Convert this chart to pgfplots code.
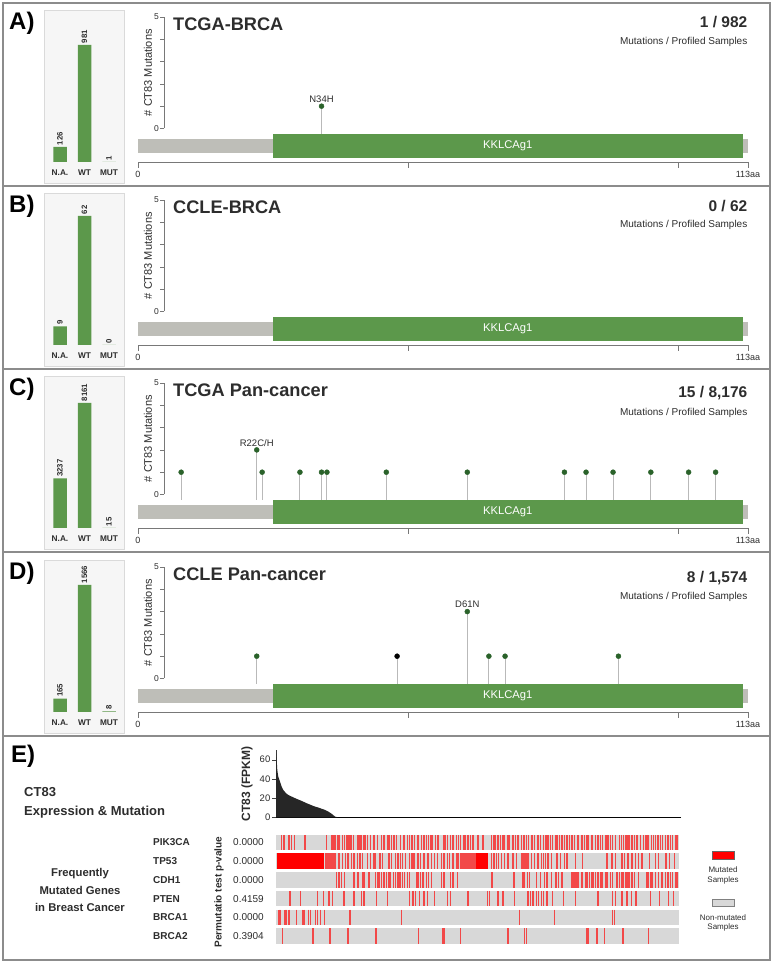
\documentclass[border=0pt]{standalone}
\usepackage{fontspec}
\setmainfont{Liberation Sans}
\usepackage{pgfplots}
\pgfplotsset{compat=1.18}
\definecolor{grn}{RGB}{92,152,75}
\definecolor{dotg}{RGB}{42,98,42}
\definecolor{protgray}{RGB}{190,190,184}
\definecolor{stemgray}{RGB}{185,185,185}
\definecolor{boxbg}{RGB}{246,246,246}
\definecolor{boxedge}{RGB}{218,218,218}
\definecolor{framec}{RGB}{140,140,140}
\definecolor{txt}{RGB}{45,45,45}
\definecolor{hmgray}{RGB}{216,216,216}
\definecolor{axgray}{RGB}{120,120,120}
\definecolor{mutred}{RGB}{242,72,72}
\pgfplotsset{
  barbox/.style={scale only axis, width=80pt, height=173pt, anchor=south west,
    ybar, bar width=13.5pt, xmin=-0.653, xmax=2.612,
    axis background/.style={fill=boxbg}, axis line style={boxedge},
    ytick=\empty, xtick={0,1,2}, xticklabels={N.A.,WT,MUT}, major tick length=0pt,
    xticklabel style={font=\bfseries\fontsize{8.3}{9}\selectfont, text=txt, anchor=center, yshift=10pt},
    nodes near coords, nodes near coords style={rotate=90, anchor=west, inner sep=1.5pt, font=\bfseries\fontsize{7.8}{8}\selectfont, text=txt},
    /pgf/number format/fixed, /pgf/number format/precision=0, /pgf/number format/1000 sep={}, /pgf/number format/assume math mode=true,
  },
  lolli/.style={scale only axis, width=584pt, height=111.5pt, anchor=south west,
    xmin=4.82, xmax=113, ymin=0, ymax=5, clip=false,
    axis x line=none, axis y line=left, axis line style={axgray, -},
    ytick={0,1,2,3,4,5}, yticklabels={0,,,,,5}, tick align=outside, major tick length=4pt,
    tick style={axgray}, yticklabel style={font=\fontsize{8.5}{9}\selectfont, text=txt, inner sep=1pt},
    ylabel={\# CT83 Mutations}, ylabel style={at={(rel axis cs:-0.0274,0.5)}, anchor=center, font=\fontsize{11}{12}\selectfont, text=txt},
    xtick=\empty,
  },
  aaaxis/.style={scale only axis, width=610pt, height=10pt, anchor=south west,
    xmin=0, xmax=113, ymin=0, ymax=1, axis x line=bottom, axis y line=none, axis line style={axgray,-},
    xtick={0,50,100,113}, xticklabels={0,,,113aa}, tick align=outside, major tick length=6pt, tick style={axgray},
    xticklabel style={font=\fontsize{9}{10}\selectfont, text=txt}, ytick=\empty,
  },
  stems/.style={only marks, mark=*, mark size=2.5pt,
    /pgfplots/error bars/y dir=minus, /pgfplots/error bars/y explicit, /pgfplots/error bars/error mark=none,
    /pgfplots/error bars/error bar style={stemgray, line width=1pt}},
  hmarks/.style={only marks, mark=|, mark size=7.75pt, color=mutred, mark options={line width=1.4pt}},
}
\newcommand{\protein}{%
  \addplot[fill=protgray, draw=none] coordinates {(0,-0.471) (113,-0.471) (113,-1.099) (0,-1.099)};
  \addplot[fill=grn, draw=none] coordinates {(25,-0.247) (112,-0.247) (112,-1.323) (25,-1.323)};
  \node[text=white, font=\fontsize{11.2}{12}\selectfont] at (axis cs:68.5,-0.785) {KKLCAg1};}
\newcommand{\mlabel}[3]{\node[above, yshift=2.5pt, inner sep=1pt, font=\fontsize{9.5}{10}\selectfont, text=txt] at (axis cs:#1,#2) {#3};}
\newcommand{\headers}[8]{%
  \node[anchor=base west, inner sep=0pt, font=\bfseries\fontsize{24}{26}\selectfont] at (9pt,#1pt) {#2};
  \node[anchor=base west, inner sep=0pt, font=\bfseries\fontsize{18.2}{20}\selectfont, text=txt] at (173pt,#3pt) {#4};
  \node[anchor=base east, inner sep=0pt, font=\bfseries\fontsize{15.5}{17}\selectfont, text=txt] at (747.5pt,#5pt) {#6};
  \node[anchor=base east, inner sep=0pt, font=\fontsize{10}{12}\selectfont, text=txt] at (747.5pt,#7pt) {#8};}
\begin{document}
\begin{tikzpicture}
\useasboundingbox (0pt,0pt) rectangle (773pt,964pt);
\fill[white] (0pt,0pt) rectangle (773pt,964pt);
% ---------------- Panel A ----------------
\begin{axis}[barbox, at={(44pt,781pt)}, ymin=-176.1, ymax=1274.5]
\addplot[fill=grn, draw=none] coordinates {(0,126) (1,981) (2,1)};
\end{axis}
\begin{axis}[lolli, at={(164pt,835.5pt)}]
\protein
\addplot[color=dotg, stems] coordinates {(34,1) -= (0,1.247)};
\mlabel{34}{1}{N34H}
\end{axis}
\begin{axis}[aaaxis, at={(138pt,802pt)}]
\addplot[draw=none] coordinates {(0,0)};
\end{axis}
\headers{934.5}{A)}{933.5}{TCGA-BRCA}{936}{1 / 982}{919}{Mutations / Profiled Samples}
% ---------------- Panel B ----------------
\begin{axis}[barbox, at={(44pt,598pt)}, ymin=-10.09, ymax=73.05]
\addplot[fill=grn, draw=none] coordinates {(0,9) (1,62) (2,0)};
\end{axis}
\begin{axis}[lolli, at={(164pt,652.5pt)}]
\protein
\end{axis}
\begin{axis}[aaaxis, at={(138pt,619pt)}]
\addplot[draw=none] coordinates {(0,0)};
\end{axis}
\headers{751.5}{B)}{750.5}{CCLE-BRCA}{752}{0 / 62}{736}{Mutations / Profiled Samples}
% ---------------- Panel C ----------------
\begin{axis}[barbox, at={(44pt,415pt)}, ymin=-1371, ymax=9924]
\addplot[fill=grn, draw=none] coordinates {(0,3237) (1,8161) (2,15)};
\end{axis}
\begin{axis}[lolli, at={(164pt,469.5pt)}]
\protein
\addplot[color=dotg, stems] coordinates {(8,1) -= (0,1.247) (22,2) -= (0,2.247) (23,1) -= (0,1.247) (30,1) -= (0,1.247)
 (34,1) -= (0,1.247) (35,1) -= (0,1.247) (46,1) -= (0,1.247) (61,1) -= (0,1.247) (79,1) -= (0,1.247)
 (83,1) -= (0,1.247) (88,1) -= (0,1.247) (95,1) -= (0,1.247) (102,1) -= (0,1.247) (107,1) -= (0,1.247)};
\mlabel{22}{2}{R22C/H}
\end{axis}
\begin{axis}[aaaxis, at={(138pt,436pt)}]
\addplot[draw=none] coordinates {(0,0)};
\end{axis}
\headers{568.5}{C)}{567.5}{TCGA Pan-cancer}{566}{15 / 8,176}{548}{Mutations / Profiled Samples}
% ---------------- Panel D ----------------
\begin{axis}[barbox, at={(44pt,231pt)}, ymin=-258.9, ymax=1874]
\addplot[fill=grn, draw=none] coordinates {(0,165) (1,1566) (2,8)};
\end{axis}
\begin{axis}[lolli, at={(164pt,285.5pt)}]
\protein
\addplot[color=dotg, stems] coordinates {(22,1) -= (0,1.247) (61,3) -= (0,3.247) (65,1) -= (0,1.247) (68,1) -= (0,1.247) (89,1) -= (0,1.247)};
\addplot[color=black, stems] coordinates {(48,1) -= (0,1.247)};
\mlabel{61}{3}{D61N}
\end{axis}
\begin{axis}[aaaxis, at={(138pt,252pt)}]
\addplot[draw=none] coordinates {(0,0)};
\end{axis}
\headers{384.5}{D)}{383.5}{CCLE Pan-cancer}{381}{8 / 1,574}{364}{Mutations / Profiled Samples}
% ---------------- Panel E ----------------
\node[anchor=base west, inner sep=0pt, font=\bfseries\fontsize{24}{26}\selectfont] at (11pt,201.5pt) {E)};
\node[anchor=base west, inner sep=0pt, font=\bfseries\fontsize{13}{15}\selectfont, text=txt] at (24pt,167pt) {CT83};
\node[anchor=base west, inner sep=0pt, font=\bfseries\fontsize{13}{15}\selectfont, text=txt] at (24pt,148pt) {Expression \& Mutation};
\node[anchor=base, inner sep=0pt, font=\bfseries\fontsize{11.3}{13}\selectfont, text=txt] at (80pt,87pt) {Frequently};
\node[anchor=base, inner sep=0pt, font=\bfseries\fontsize{11.3}{13}\selectfont, text=txt] at (80pt,69pt) {Mutated Genes};
\node[anchor=base, inner sep=0pt, font=\bfseries\fontsize{11.3}{13}\selectfont, text=txt] at (80pt,52pt) {in Breast Cancer};
\begin{axis}[scale only axis, width=405pt, height=67.4pt, anchor=south west, at={(276pt,146.5pt)},
  xmin=0, xmax=405, ymin=0, ymax=70, axis x line=bottom, axis y line=left,
  x axis line style={black, line width=1.2pt, -}, y axis line style={black!75, -},
  xtick=\empty, ytick={0,20,40,60}, tick align=outside, major tick length=4pt, tick style={black!75},
  yticklabel style={font=\fontsize{9.5}{10}\selectfont, text=txt, inner sep=1.5pt},
  /pgf/number format/assume math mode=true,
  ylabel={CT83 (FPKM)}, ylabel style={at={(rel axis cs:-0.0716,0.5)}, anchor=center, font=\bfseries\fontsize{12}{13}\selectfont, text=txt}]
\addplot[fill=black!85, draw=none] coordinates {(0,70) (0.7,59.7) (1.3,49.3) (2.3,42.4) (4,37.2) (5.7,32) (7.3,28.6)
 (10,25.2) (12.3,23.4) (15.7,21.7) (20.7,19.3) (25.7,17.2) (30.7,14.8) (37.3,12) (44,9.7) (49,7.9) (52.3,6.2)
 (55.7,3.8) (59,1) (62.3,0) (405,0)} \closedcycle;
\end{axis}
\begin{axis}[scale only axis, width=403pt, height=112.2pt, anchor=south west, at={(276pt,18.65pt)},
  xmin=0, xmax=403, ymin=0.5, ymax=6.5, axis lines=none, clip=false]
\addplot[hmgray, line width=15.5pt] coordinates {(0,6) (403,6)};
\addplot[hmgray, line width=15.5pt] coordinates {(0,5) (403,5)};
\addplot[hmgray, line width=15.5pt] coordinates {(0,4) (403,4)};
\addplot[hmgray, line width=15.5pt] coordinates {(0,3) (403,3)};
\addplot[hmgray, line width=15.5pt] coordinates {(0,2) (403,2)};
\addplot[hmgray, line width=15.5pt] coordinates {(0,1) (403,1)};
\addplot[red, line width=15.5pt] coordinates {(1.3,5) (48,5)};
\addplot[red, line width=15.5pt] coordinates {(200.3,5) (212,5)};
% PIK3CA
\addplot[hmarks] coordinates {(5.3,6)(8,6)(13,6)(15.3,6)(18.7,6)(29,6)(50.7,6)(56,6)(58,6)(59.7,6)(61.3,6)(63,6)(66.3,6)(68.7,6)(70.7,6)(72,6)(74,6)(75.3,6)(77.3,6)(82,6)(84,6)(85.3,6)(88,6)(89.7,6)(91.3,6)(94.7,6)(98,6)(101.3,6)(105.3,6)(108,6)(111.3,6)(113,6)(115.3,6)(118,6)(120.7,6)(124.7,6)(128,6)(131.3,6)
(133.7,6)(136,6)(138.7,6)(142,6)(145.3,6)(148,6)(150.3,6)(152.7,6)(154.7,6)(156,6)(159.3,6)(162,6)(168,6)(169.3,6)(171.3,6)(174.7,6)(177,6)(180.3,6)(182.7,6)(184.7,6)(188,6)(189.3,6)(192,6)(194.7,6)(197,6)(202,6)(207,6)(215.3,6)(218,6)(219.3,6)(222,6)(224.7,6)(227,6)(228.7,6)(232,6)(233.7,6)(237,6)(239.3,6)(242,6)(245.3,6)(248,6)(250.3,6)(252.7,6)(256,6)(258.7,6)(262,6)(264.7,6)
(267.7,6)(270,6)(272,6)(274.3,6)(276.7,6)(279.3,6)(281,6)(283.3,6)(285.3,6)(286.7,6)(288.7,6)(291,6)(293.3,6)(296,6)(298.7,6)(302,6)(305.3,6)(306.7,6)(308.7,6)(311,6)(312.7,6)(315.3,6)(316.7,6)(319.3,6)(322,6)(324.3,6)(326.7,6)(329.3,6)(331,6)(332.7,6)(334.3,6)(336.7,6)(339.3,6)(343.3,6)(345.3,6)(347.7,6)(350,6)(352,6)(353.3,6)(356,6)(358.7,6)(361,6)(364.3,6)(367.7,6)(369.3,6)(371,6)(372.7,6)(375.3,6)(377.7,6)(379.3,6)(382,6)(384.3,6)(386.7,6)(389.3,6)(392,6)(394.3,6)(396.7,6)(399.3,6)(401,6)};
% TP53
\addplot[hmarks] coordinates {(50,5)(51.5,5)(53,5)(55,5)(56.5,5)(58,5)(59.7,5)(63,5)(66.3,5)(69.7,5)(72,5)(75.3,5)(78,5)(81.3,5)(84,5)(86.3,5)(91.3,5)(94.7,5)(98,5)(99.7,5)(104,5)(106.3,5)(113,5)(115.3,5)(119.7,5)(122,5)(124.7,5)(126.3,5)(129.7,5)(133.7,5)(136,5)(138,5)(142,5)(144.7,5)(148,5)(152,5)(155.3,5)(158.7,5)(161.3,5)(165.3,5)(168,5)(171.3,5)(173.7,5)(177,5)(180.3,5)(182,5)(184.7,5)(186,5)(187.5,5)(189,5)(190.5,5)(192,5)(193.5,5)(195,5)(196.5,5)(198,5)(199.5,5)(215.3,5)(218,5)(220.3,5)(222.7,5)(225.3,5)(228.7,5)(232,5)(237,5)(240.3,5)(245.3,5)(246.7,5)(248,5)(249.3,5)(250.7,5)(252,5)(255.3,5)(258.7,5)(262,5)(265.3,5)(267.7,5)(269.3,5)(272,5)(275.3,5)(281,5)(284.3,5)(288.7,5)(291,5)(299.3,5)(306.7,5)(331,5)(336,5)(339.3,5)(346,5)(348.7,5)(352,5)(356,5)(359.3,5)(362.7,5)(366,5)(373.3,5)(379.3,5)(382.7,5)(390,5)(393.3,5)(398.7,5)};
% CDH1
\addplot[hmarks] coordinates {(60.3,4)(63,4)(65.7,4)(68.7,4)(78,4)(82,4)(86.3,4)(88,4)(93,4)(99.7,4)(101.3,4)(103,4)(105.3,4)(108,4)(110.7,4)(113,4)(114.7,4)(117.3,4)(119.7,4)(122,4)(124,4)(126.3,4)(128.7,4)(131.3,4)(133.7,4)(140.3,4)(142,4)(144.7,4)(147,4)(150.3,4)(152.7,4)(155.3,4)(165.3,4)(168,4)(174.7,4)(177,4)(181.3,4)(216,4)(238,4)(247,4)(248.7,4)(251.3,4)(253.7,4)(260.3,4)(264.7,4)(268.7,4)(271,4)(275.3,4)(280,4)(282.7,4)(286,4)(295.3,4)(296.7,4)(298,4)(299.3,4)(301,4)(302.7,4)(305.3,4)(306.7,4)(309.3,4)(311,4)(313.3,4)(316,4)(317.7,4)(319.3,4)(322,4)(324.3,4)(326,4)(329.3,4)(331,4)(334.3,4)(336.7,4)(341,4)(343.3,4)(346,4)(347.7,4)(350,4)(352,4)(353.3,4)(356,4)(358.7,4)(362.7,4)(371,4)(372.7,4)(374.3,4)(376,4)(379.3,4)(382.7,4)(386,4)(389.3,4)(392,4)(394.3,4)(396.7,4)(399.3,4)(401,4)};
% PTEN
\addplot[hmarks] coordinates {(14,3)(24.7,3)(41.3,3)(47.3,3)(53,3)(56.3,3)(68,3)(78,3)(85.3,3)(88,3)(100.3,3)(111.3,3)(133.7,3)(137,3)(139.3,3)(143.7,3)(148,3)(151.3,3)(158.7,3)(171.3,3)(174.7,3)(192,3)(211.3,3)(213.7,3)(222,3)(227,3)(238.7,3)(252,3)(254.7,3)(257,3)(260.3,3)(262.7,3)(265.3,3)(267.7,3)(271,3)(276.7,3)(287.7,3)(299.3,3)(322,3)(336.7,3)(339.3,3)(346,3)(351,3)(355.3,3)(360,3)(374.3,3)(383.3,3)(392.7,3)(397.7,3)};
% BRCA1
\addplot[hmarks] coordinates {(3,2)(4,2)(9,2)(10.7,2)(13,2)(20.7,2)(26.3,2)(28,2)(32.3,2)(34.7,2)(39.7,2)(41.3,2)(44.7,2)(48.7,2)(74,2)(125.3,2)(243.7,2)(278.7,2)(336.7,2)(338.7,2)};
% BRCA2
\addplot[hmarks] coordinates {(6.3,1)(37,1)(54,1)(72,1)(100,1)(142.7,1)(167,1)(168,1)(184.7,1)(232,1)(248.7,1)(250.3,1)(311,1)(312.7,1)(321,1)(328.7,1)(347,1)(372.7,1)};
\end{axis}
% gene labels and p-values
\foreach \g/\p/\yy in {PIK3CA/0.0000/121.5, TP53/0.0000/102.8, CDH1/0.0000/84.1, PTEN/0.4159/65.4, BRCA1/0.0000/46.7, BRCA2/0.3904/28}{
  \node[anchor=west, inner sep=0pt, font=\bfseries\fontsize{10}{11}\selectfont, text=txt] at (153pt,\yy pt) {\g};
  \node[anchor=west, inner sep=0pt, font=\fontsize{10}{11}\selectfont, text=txt] at (233pt,\yy pt) {\p};
}
\node[rotate=90, inner sep=0pt, font=\bfseries\fontsize{10}{11}\selectfont, text=txt] at (219pt,72pt) {Permutatio test p-value};
% legend
\draw[fill=red, draw=black!60] (712pt,113pt) rectangle (734pt,105pt);
\node[inner sep=0pt, font=\fontsize{8}{9}\selectfont, text=txt] at (723pt,94pt) {Mutated};
\node[inner sep=0pt, font=\fontsize{8}{9}\selectfont, text=txt] at (723pt,83.5pt) {Samples};
\draw[fill=hmgray, draw=black!50] (712pt,65pt) rectangle (734pt,58pt);
\node[inner sep=0pt, font=\fontsize{8}{9}\selectfont, text=txt] at (723pt,46.5pt) {Non-mutated};
\node[inner sep=0pt, font=\fontsize{8}{9}\selectfont, text=txt] at (723pt,36.5pt) {Samples};
% frames
\draw[framec, line width=1.3pt] (3pt,4pt) rectangle (770pt,961pt);
\draw[framec, line width=1.3pt] (3pt,778pt) -- (770pt,778pt);
\draw[framec, line width=1.3pt] (3pt,595pt) -- (770pt,595pt);
\draw[framec, line width=1.3pt] (3pt,412pt) -- (770pt,412pt);
\draw[framec, line width=1.3pt] (3pt,228pt) -- (770pt,228pt);
\end{tikzpicture}
\end{document}
